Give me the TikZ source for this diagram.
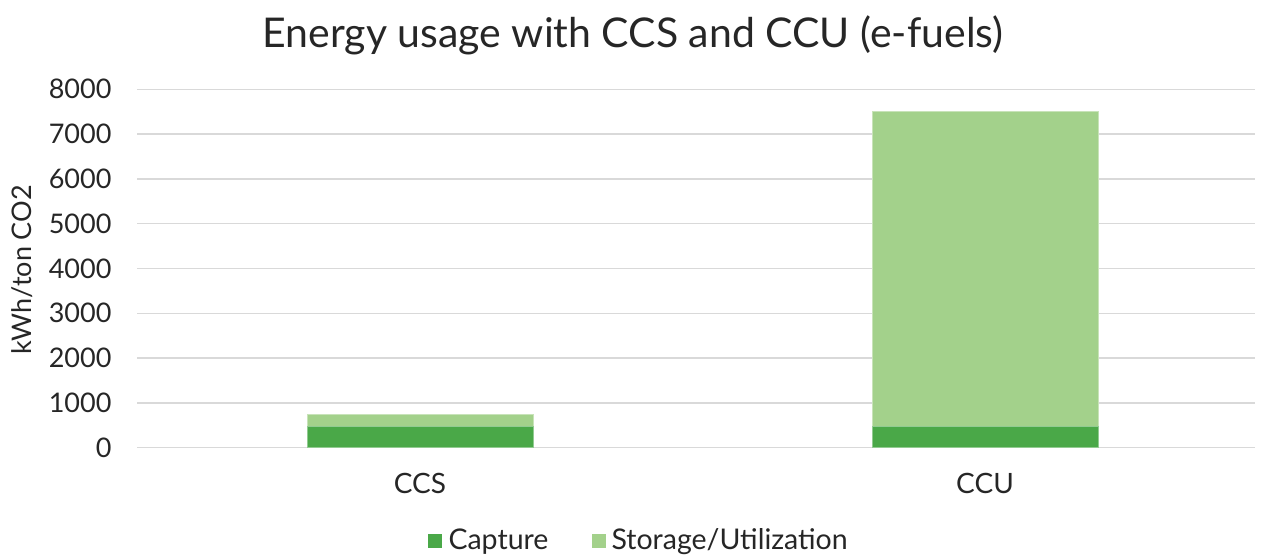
\documentclass[tikz,border=0pt]{standalone}
\usepackage{fontspec}
\setmainfont{Lato}
\definecolor{capgreen}{RGB}{74,168,72}
\definecolor{stogreen}{RGB}{163,209,139}
\definecolor{gridgray}{RGB}{217,217,217}
\begin{document}
\begin{tikzpicture}[x=1pt,y=-1pt,
  grid/.style={draw=gridgray,line width=1.4pt},
  tick/.style={anchor=east,font=\fontsize{27}{27}\selectfont,text=black!85},
  cat/.style={font=\fontsize{28}{28}\selectfont,text=black!85},
  barcap/.style={fill=capgreen,draw=capgreen!60!white,line width=0.7pt},
  barsto/.style={fill=stogreen,draw=stogreen!60!white,line width=0.7pt},
  legtext/.style={anchor=west,font=\fontsize{28.5}{28.5}\selectfont,text=black!85}]
\useasboundingbox (0,0) rectangle (1266,556);
% value axis: 0 at y=447.7, 44.8 units per 1000
\def\yzero{447.7}
\def\ystep{44.8}
% horizontal grid lines and tick labels
\foreach \i in {0,...,8}{
  \pgfmathsetmacro{\yy}{\yzero-\i*\ystep}
  \draw[grid] (137,\yy) -- (1255,\yy);
  \pgfmathtruncatemacro{\val}{\i*1000}
  \node[tick] (t\i) at (115,\yy) {\val};
}
% stacked bars
\pgfmathsetmacro{\ycap}{\yzero-0.48*\ystep}
\pgfmathsetmacro{\yccs}{\yzero-0.75*\ystep}
\pgfmathsetmacro{\yccu}{\yzero-7.5*\ystep}
\path[barsto] (307,\ycap) rectangle (533,\yccs);
\path[barcap] (307,\yzero) rectangle (533,\ycap);
\path[barsto] (872,\ycap) rectangle (1098,\yccu);
\path[barcap] (872,\yzero) rectangle (1098,\ycap);
% category labels
\node[cat] (ccs) at (420,483) {CCS};
\node[cat] (ccu) at (985,483) {CCU};
% axis title
\node[rotate=90,font=\fontsize{27}{27}\selectfont,text=black!85] (ylab) at (22,270) {kWh/ton CO2};
% chart title
\node[font=\fontsize{41}{41}\selectfont,text=black!85] (title) at (633,35) {Energy usage with CCS and CCU (e-fuels)};
% legend
\fill[capgreen] (428,534) rectangle (442,548);
\node[legtext] (lcap) at (445,542) {Capture};
\fill[stogreen] (592,534) rectangle (606,548);
\node[legtext] (lsto) at (608,542) {Storage/Utilization};
\end{tikzpicture}
\end{document}
